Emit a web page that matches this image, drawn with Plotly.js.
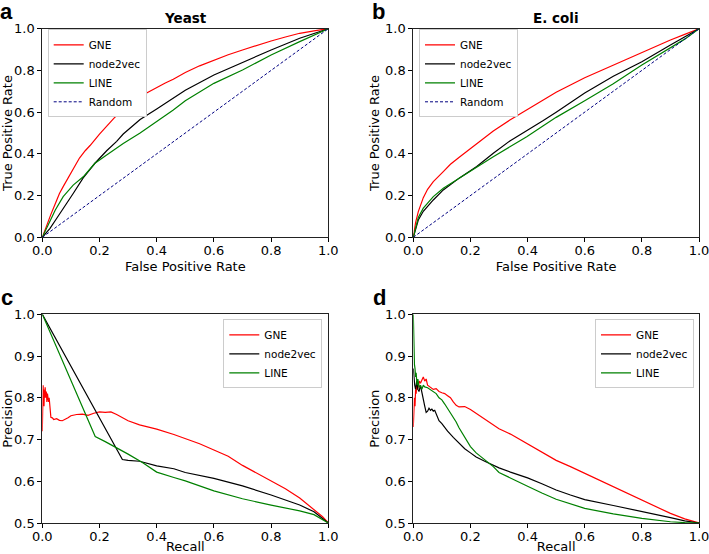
<!DOCTYPE html>
<html>
<head>
<meta charset="utf-8">
<script src="https://cdn.plot.ly/plotly-3.0.1.min.js"></script>
<style>html,body{margin:0;padding:0;background:#fff;}#chart{width:709px;height:554px;}</style>
</head>
<body>
<div id="chart"></div>
<script>
// ---------- Panel a: Yeast ROC ----------
const aGneFpr = [0, 0.015, 0.03, 0.045, 0.06, 0.073, 0.09, 0.108, 0.13, 0.15, 0.167, 0.2, 0.225, 0.25, 0.283, 0.3, 0.342, 0.37, 0.4, 0.43, 0.458, 0.5, 0.55, 0.6, 0.65, 0.7, 0.75, 0.8, 0.85, 0.9, 0.95, 1.0];
const aGneTpr = [0, 0.06, 0.11, 0.16, 0.21, 0.243, 0.285, 0.33, 0.38, 0.415, 0.44, 0.495, 0.535, 0.57, 0.615, 0.637, 0.675, 0.697, 0.718, 0.74, 0.758, 0.79, 0.822, 0.85, 0.875, 0.898, 0.92, 0.941, 0.96, 0.978, 0.99, 1.0];
const aN2vFpr = [0, 0.027, 0.05, 0.073, 0.108, 0.143, 0.184, 0.225, 0.26, 0.283, 0.342, 0.4, 0.458, 0.5, 0.6, 0.7, 0.8, 0.9, 0.95, 1.0];
const aN2vTpr = [0, 0.043, 0.09, 0.14, 0.21, 0.285, 0.355, 0.415, 0.46, 0.495, 0.565, 0.615, 0.665, 0.705, 0.778, 0.839, 0.898, 0.954, 0.978, 1.0];
const aLineFpr = [0, 0.02, 0.045, 0.073, 0.108, 0.143, 0.184, 0.225, 0.283, 0.342, 0.4, 0.458, 0.5, 0.6, 0.7, 0.8, 0.9, 0.95, 1.0];
const aLineTpr = [0, 0.06, 0.13, 0.195, 0.25, 0.29, 0.355, 0.395, 0.45, 0.50, 0.555, 0.61, 0.655, 0.738, 0.802, 0.874, 0.938, 0.97, 1.0];

// ---------- Panel b: E. coli ROC ----------
const bGneFpr = [0, 0.008, 0.0175, 0.035, 0.05, 0.07, 0.105, 0.13, 0.163, 0.222, 0.28, 0.338, 0.397, 0.455, 0.5, 0.6, 0.7, 0.8, 0.9, 0.95, 1.0];
const bGneTpr = [0, 0.07, 0.123, 0.19, 0.23, 0.267, 0.315, 0.35, 0.386, 0.45, 0.51, 0.562, 0.61, 0.66, 0.695, 0.765, 0.826, 0.888, 0.946, 0.973, 1.0];
const bN2vFpr = [0, 0.01, 0.0175, 0.035, 0.07, 0.105, 0.163, 0.222, 0.28, 0.338, 0.397, 0.455, 0.5, 0.6, 0.7, 0.8, 0.9, 0.95, 1.0];
const bN2vTpr = [0, 0.05, 0.083, 0.125, 0.179, 0.227, 0.286, 0.339, 0.403, 0.462, 0.51, 0.56, 0.6, 0.692, 0.772, 0.842, 0.922, 0.96, 1.0];
const bLineFpr = [0, 0.01, 0.0175, 0.035, 0.07, 0.105, 0.163, 0.222, 0.28, 0.338, 0.397, 0.455, 0.5, 0.6, 0.7, 0.8, 0.9, 0.95, 1.0];
const bLineTpr = [0, 0.06, 0.095, 0.14, 0.195, 0.235, 0.286, 0.339, 0.386, 0.434, 0.482, 0.535, 0.575, 0.655, 0.736, 0.826, 0.906, 0.95, 1.0];

const randomX = [0, 1];
const randomY = [0, 1];

// ---------- Panel c: Yeast PR ----------
const cGneRec = [0, 0.001, 0.002, 0.003, 0.004, 0.005, 0.006, 0.007, 0.008, 0.01, 0.012, 0.014, 0.016, 0.018, 0.02, 0.022, 0.024, 0.026, 0.028, 0.03, 0.035, 0.04, 0.05, 0.06, 0.07, 0.08, 0.09, 0.1, 0.12, 0.14, 0.16, 0.18, 0.2, 0.22, 0.24, 0.26, 0.28, 0.3, 0.34, 0.4, 0.46, 0.5, 0.55, 0.6, 0.65, 0.7, 0.75, 0.8, 0.85, 0.9, 0.95, 0.98, 1.0];
const cGnePrec = [0.72, 0.80, 0.76, 0.83, 0.79, 0.82, 0.78, 0.81, 0.80, 0.825, 0.80, 0.815, 0.79, 0.81, 0.80, 0.79, 0.80, 0.775, 0.76, 0.753, 0.752, 0.748, 0.750, 0.746, 0.745, 0.748, 0.752, 0.757, 0.760, 0.761, 0.758, 0.763, 0.766, 0.765, 0.766, 0.760, 0.752, 0.745, 0.735, 0.725, 0.712, 0.703, 0.69, 0.675, 0.66, 0.638, 0.62, 0.600, 0.582, 0.560, 0.532, 0.515, 0.50];
const cN2vRec = [0, 0.28, 0.3, 0.34, 0.4, 0.46, 0.5, 0.6, 0.7, 0.8, 0.9, 0.95, 1.0];
const cN2vPrec = [1.0, 0.652, 0.65, 0.648, 0.637, 0.630, 0.621, 0.607, 0.589, 0.567, 0.543, 0.527, 0.50];
const cLineRec = [0, 0.185, 0.22, 0.26, 0.3, 0.35, 0.38, 0.4, 0.46, 0.5, 0.6, 0.7, 0.8, 0.9, 0.95, 1.0];
const cLinePrec = [1.0, 0.707, 0.695, 0.681, 0.665, 0.645, 0.632, 0.622, 0.609, 0.601, 0.577, 0.558, 0.543, 0.529, 0.52, 0.50];

// ---------- Panel d: E. coli PR ----------
const dGneRec = [0, 0.002, 0.004, 0.006, 0.008, 0.01, 0.012, 0.015, 0.018, 0.021, 0.025, 0.03, 0.035, 0.04, 0.045, 0.05, 0.06, 0.07, 0.08, 0.09, 0.1, 0.11, 0.12, 0.13, 0.14, 0.15, 0.16, 0.18, 0.2, 0.22, 0.25, 0.28, 0.3, 0.34, 0.4, 0.45, 0.5, 0.55, 0.6, 0.65, 0.7, 0.75, 0.8, 0.85, 0.9, 0.95, 1.0];
const dGnePrec = [0.73, 0.76, 0.80, 0.78, 0.82, 0.81, 0.835, 0.82, 0.83, 0.84, 0.835, 0.845, 0.85, 0.84, 0.845, 0.83, 0.825, 0.82, 0.822, 0.815, 0.812, 0.81, 0.805, 0.80, 0.79, 0.782, 0.778, 0.779, 0.772, 0.763, 0.748, 0.734, 0.726, 0.713, 0.689, 0.668, 0.650, 0.635, 0.619, 0.603, 0.587, 0.571, 0.555, 0.539, 0.523, 0.51, 0.50];
const dN2vRec = [0, 0.002, 0.005, 0.008, 0.012, 0.016, 0.02, 0.025, 0.03, 0.035, 0.04, 0.045, 0.05, 0.055, 0.06, 0.065, 0.07, 0.075, 0.08, 0.09, 0.1, 0.12, 0.14, 0.16, 0.18, 0.2, 0.22, 0.25, 0.28, 0.3, 0.34, 0.4, 0.45, 0.5, 0.55, 0.6, 0.7, 0.8, 0.9, 0.95, 1.0];
const dN2vPrec = [0.87, 0.85, 0.83, 0.82, 0.84, 0.82, 0.815, 0.83, 0.81, 0.80, 0.78, 0.765, 0.768, 0.775, 0.77, 0.773, 0.768, 0.77, 0.76, 0.745, 0.738, 0.72, 0.705, 0.692, 0.678, 0.668, 0.658, 0.648, 0.638, 0.632, 0.622, 0.608, 0.594, 0.579, 0.567, 0.556, 0.542, 0.528, 0.513, 0.505, 0.50];
const dLineRec = [0, 0.002, 0.004, 0.006, 0.008, 0.01, 0.013, 0.016, 0.02, 0.025, 0.03, 0.035, 0.04, 0.05, 0.06, 0.07, 0.08, 0.09, 0.1, 0.11, 0.12, 0.13, 0.14, 0.15, 0.16, 0.18, 0.2, 0.22, 0.25, 0.28, 0.3, 0.34, 0.4, 0.45, 0.5, 0.6, 0.7, 0.8, 0.9, 0.95, 1.0];
const dLinePrec = [1.0, 0.92, 0.88, 0.87, 0.85, 0.86, 0.83, 0.845, 0.825, 0.83, 0.82, 0.83, 0.826, 0.824, 0.82, 0.815, 0.81, 0.80, 0.795, 0.785, 0.775, 0.765, 0.755, 0.742, 0.728, 0.705, 0.683, 0.668, 0.652, 0.635, 0.621, 0.607, 0.588, 0.572, 0.557, 0.535, 0.522, 0.511, 0.503, 0.501, 0.50];

const seriesNames = ['GNE', 'node2vec', 'LINE', 'Random'];
const seriesColors = ['#ff0000', '#000000', '#008000', '#000080'];
const panelTitles = ['Yeast', 'E. coli'];
const panelLetters = ['a', 'b', 'c', 'd'];
const rocTicks = [0, 0.2, 0.4, 0.6, 0.8, 1.0];
const prTicks = [0.5, 0.6, 0.7, 0.8, 0.9, 1.0];

const FONT = 'DejaVu Sans, sans-serif';
const LW = 1.2;

function tr(x, y, i, xa, ya, leg) {
  return {
    x: x, y: y, type: 'scatter', mode: 'lines', name: seriesNames[i],
    xaxis: xa, yaxis: ya, legend: leg,
    line: {color: seriesColors[i], width: i === 3 ? 1 : LW, dash: i === 3 ? '3px,2px' : 'solid'},
    hoverinfo: 'skip'
  };
}

const data = [
  tr(aGneFpr, aGneTpr, 0, 'x', 'y', 'legend'),
  tr(aN2vFpr, aN2vTpr, 1, 'x', 'y', 'legend'),
  tr(aLineFpr, aLineTpr, 2, 'x', 'y', 'legend'),
  tr(randomX, randomY, 3, 'x', 'y', 'legend'),
  tr(bGneFpr, bGneTpr, 0, 'x2', 'y2', 'legend2'),
  tr(bN2vFpr, bN2vTpr, 1, 'x2', 'y2', 'legend2'),
  tr(bLineFpr, bLineTpr, 2, 'x2', 'y2', 'legend2'),
  tr(randomX, randomY, 3, 'x2', 'y2', 'legend2'),
  tr(cGneRec, cGnePrec, 0, 'x3', 'y3', 'legend3'),
  tr(cN2vRec, cN2vPrec, 1, 'x3', 'y3', 'legend3'),
  tr(cLineRec, cLinePrec, 2, 'x3', 'y3', 'legend3'),
  tr(dGneRec, dGnePrec, 0, 'x4', 'y4', 'legend4'),
  tr(dN2vRec, dN2vPrec, 1, 'x4', 'y4', 'legend4'),
  tr(dLineRec, dLinePrec, 2, 'x4', 'y4', 'legend4')
];

const W = 709, H = 554;
const colX = [[42.3, 328.3], [413.3, 699]];
const rowY = [[28.7, 237.3], [314.3, 523]];
function xd(c) { return [colX[c][0] / W, colX[c][1] / W]; }
function yd(r) { return [1 - rowY[r][1] / H, 1 - rowY[r][0] / H]; }

function xaxis(c, anchor, title) {
  return {
    domain: xd(c), anchor: anchor, range: [0, 1], tickvals: rocTicks, tickformat: '.1f',
    ticks: 'outside', ticklen: 4, tickwidth: 1, tickcolor: '#000',
    ticklabelstandoff: -3, ticklabeloverflow: 'allow',
    showline: true, linecolor: '#222', linewidth: 1, mirror: true,
    showgrid: false, zeroline: false, fixedrange: true,
    tickfont: {family: FONT, size: 13, color: '#000'},
    title: {text: title, font: {family: FONT, size: 13, color: '#000'}, standoff: 4}
  };
}
function yaxis(r, c, anchor, title, pr) {
  return {
    domain: yd(r), anchor: anchor, range: pr ? [0.5, 1] : [0, 1],
    tickvals: pr ? prTicks : rocTicks, tickformat: '.1f',
    ticks: 'outside', ticklen: 4, tickwidth: 1, tickcolor: '#000',
    showline: true, linecolor: '#222', linewidth: 1, mirror: true,
    showgrid: false, zeroline: false, fixedrange: true,
    tickfont: {family: FONT, size: 13, color: '#000'},
    title: {text: title, font: {family: FONT, size: 13, color: '#000'}, standoff: 2}
  };
}

function legendAt(xpx, ypx, xanchor) {
  return {
    x: xpx / W, y: 1 - ypx / H, xanchor: xanchor, yanchor: 'top',
    xref: 'paper', yref: 'paper',
    bgcolor: '#ffffff', bordercolor: '#cccccc', borderwidth: 1,
    font: {family: FONT, size: 10.5, color: '#000'},
    itemwidth: 30, tracegroupgap: 0
  };
}

const annotations = [];
const letterPos = [[6.5, 0], [379, 0], [6.5, 285.5], [379.7, 285.5]];
panelLetters.forEach((t, i) => {
  annotations.push({
    text: '<b>' + t + '</b>', xref: 'paper', yref: 'paper',
    x: letterPos[i][0] / W, y: 1 - letterPos[i][1] / H,
    xanchor: 'center', yanchor: 'top', yshift: 3, showarrow: false,
    font: {family: 'Liberation Sans, Arial, sans-serif', size: 22, color: '#000'}
  });
});
panelTitles.forEach((t, i) => {
  annotations.push({
    text: '<b>' + t + '</b>', xref: (i === 0 ? 'x' : 'x2') + ' domain', yref: (i === 0 ? 'y' : 'y2') + ' domain',
    x: 0.5, y: 1, xanchor: 'center', yanchor: 'bottom', yshift: 1, showarrow: false,
    font: {family: FONT, size: 13.5, color: '#000'}
  });
});

const layout = {
  width: W, height: H,
  margin: {l: 0, r: 0, t: 0, b: 0},
  paper_bgcolor: '#fff', plot_bgcolor: '#fff',
  font: {family: FONT},
  showlegend: true,
  xaxis: xaxis(0, 'y', 'False Positive Rate'),
  yaxis: yaxis(0, 0, 'x', 'True Positive Rate', false),
  xaxis2: xaxis(1, 'y2', 'False Positive Rate'),
  yaxis2: yaxis(0, 1, 'x2', 'True Positive Rate', false),
  xaxis3: xaxis(0, 'y3', 'Recall'),
  yaxis3: yaxis(1, 0, 'x3', 'Precision', true),
  xaxis4: xaxis(1, 'y4', 'Recall'),
  yaxis4: yaxis(1, 1, 'x4', 'Precision', true),
  legend: legendAt(47.7, 29.3, 'left'),
  legend2: legendAt(419, 29.3, 'left'),
  legend3: legendAt(322.3, 319.3, 'right'),
  legend4: legendAt(694, 319.3, 'right'),
  annotations: annotations
};

Plotly.newPlot('chart', data, layout, {staticPlot: true, displayModeBar: false});
</script>
</body>
</html>
